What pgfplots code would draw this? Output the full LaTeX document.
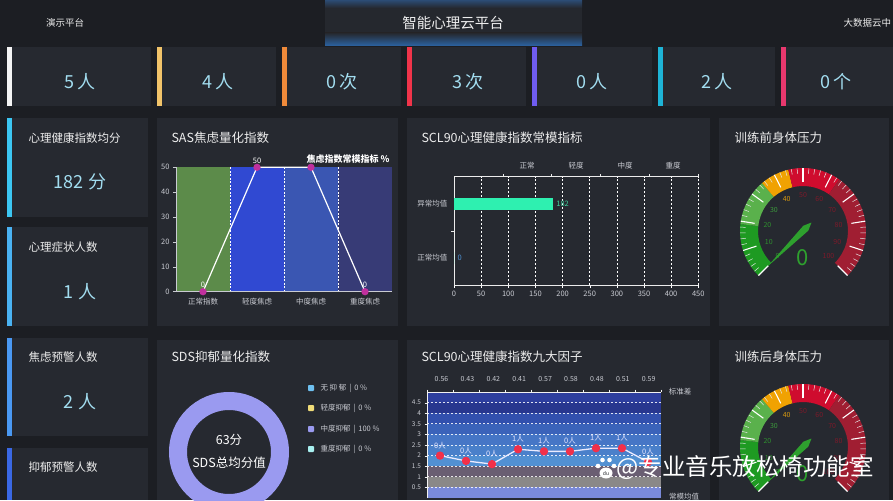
\documentclass[border=0pt]{standalone}
\usepackage{pgfplots}
\pgfplotsset{compat=1.18}
\usepackage{fontspec}
\setmainfont{Noto Sans CJK SC}
\definecolor{bgc}{HTML}{1C1E23}
\definecolor{panelc}{HTML}{262930}
\definecolor{valc}{HTML}{A2DDF0}
\definecolor{titc}{HTML}{EDEDED}
\definecolor{tickc}{HTML}{C9CBD2}
\definecolor{glowM}{HTML}{25282E}
\definecolor{glowT}{HTML}{2C4C74}
\definecolor{glowB}{HTML}{2C64A4}
\definecolor{sasG}{HTML}{5C8B4A}
\definecolor{sasB1}{HTML}{3049D2}
\definecolor{sasB2}{HTML}{3A56B2}
\definecolor{sasB3}{HTML}{373B76}
\definecolor{sasM}{HTML}{C0309E}
\definecolor{sclbar}{HTML}{2EF0B0}
\definecolor{sclg}{HTML}{3FD4A0}
\definecolor{sclb}{HTML}{4F93D6}
\definecolor{donut}{HTML}{9A9AF0}
\definecolor{lg1}{HTML}{6EC0F0}
\definecolor{lg2}{HTML}{F0DC78}
\definecolor{lg4}{HTML}{A8F0F0}
\definecolor{gG1}{HTML}{1E9A22}
\definecolor{gG2}{HTML}{5AB14C}
\definecolor{gO}{HTML}{F0A202}
\definecolor{gR}{HTML}{CF0C2E}
\definecolor{gD}{HTML}{A01E32}
\definecolor{gL1}{HTML}{2F8F2F}
\definecolor{gL2}{HTML}{3C9A3C}
\definecolor{gLO}{HTML}{D89A10}
\definecolor{gLR}{HTML}{7C1A2A}
\definecolor{needle}{HTML}{2EA02E}
\definecolor{ptred}{HTML}{F2304A}
\definecolor{nb1}{HTML}{2E3F9E}
\definecolor{nb2}{HTML}{28378F}
\definecolor{nb3}{HTML}{3250AE}
\definecolor{nb4}{HTML}{3B63BA}
\definecolor{nb5}{HTML}{4676C6}
\definecolor{nb6}{HTML}{4A80CA}
\definecolor{nb7}{HTML}{5290D2}
\definecolor{nb8}{HTML}{6A5E72}
\definecolor{nb9}{HTML}{8A8888}
\definecolor{nb10}{HTML}{7A8ADA}
\definecolor{cW}{HTML}{F4F4F4}
\definecolor{cY}{HTML}{F2C46A}
\definecolor{cO}{HTML}{F08A3A}
\definecolor{cR}{HTML}{F0344A}
\definecolor{cP}{HTML}{6F5CF0}
\definecolor{cC}{HTML}{1EB4D6}
\definecolor{cK}{HTML}{E8386E}
\definecolor{lc1}{HTML}{3CC6F2}
\definecolor{lc2}{HTML}{4AB2F2}
\definecolor{lc3}{HTML}{4A98F2}
\definecolor{lc4}{HTML}{3A68E4}
\newcommand{\fsz}[1]{\fontsize{#1}{#1}\selectfont}
\newcommand{\gseg}[3]{%
  \fill[#3] ({225-2.7*#1}:63) arc[start angle={225-2.7*#1}, end angle={225-2.7*#2}, radius=63]
    -- ({225-2.7*#2}:45) arc[start angle={225-2.7*#2}, end angle={225-2.7*#1}, radius=45] -- cycle;}
\newcommand{\gauge}[3]{%
\begin{scope}[shift={(#1pt,-#2pt)}, x=1pt, y=1pt]
  \gseg{0}{19}{gG1}\gseg{19}{35}{gG2}\gseg{35}{45}{gO}\gseg{45}{63}{gR}\gseg{63}{100}{gD}
  \foreach \i in {0,...,50}{%
    \pgfmathsetmacro\gang{225-5.4*\i}%
    \pgfmathtruncatemacro\gmod{mod(\i,5)}%
    \ifnum\gmod=0
      \draw[white, line width=1.1pt] (\gang:49) -- (\gang:63);
    \else
      \draw[white!80!gray, line width=0.5pt] (\gang:57.5) -- (\gang:63);
    \fi}
  \foreach \v/\gc in {0/gL1,10/gL1,20/gL1,30/gL2,40/gLO,50/gLR,60/gLR,70/gLR,80/gLR,90/gLR,100/gLR}{%
    \node[text=\gc, font=\fsz{7}] at ({225-2.7*\v}:36) {\v};}
  \fill[needle, rotate={225-2.7*#3}] (50,0) -- (-4,3.5) -- (-12,0) -- (-4,-3.5) -- cycle;
  \node[text=needle, font=\fsz{22}] at (0,-27) {#3};
\end{scope}}

\begin{document}
\begin{tikzpicture}
\path[use as bounding box, clip] (0,0) rectangle (893pt,-500pt);
\begin{scope}[x=1pt,y=-1pt]
\fill[bgc] (0,0) rectangle (893,500);
% header glow
\fill[glowM] (325,0) rectangle (582,46);
\shade[top color=glowT, bottom color=glowM] (325,0) rectangle (582,8);
\shade[top color=glowM, bottom color=glowB] (325,33) rectangle (582,46);
% top cards
\foreach \x/\w/\cl in {7/144/cW,157/119/cY,282/119/cO,407/119/cR,532/120/cP,658/117/cC,781/112/cK}{%
  \fill[panelc] (\x,47) rectangle ++(\w,59);
  \fill[\cl] (\x,47) rectangle ++(5,59);}
% left cards
\fill[panelc] (7,118) rectangle (148,217); \fill[lc1] (7,118) rectangle (12,217);
\fill[panelc] (7,227) rectangle (148,326); \fill[lc2] (7,227) rectangle (12,326);
\fill[panelc] (7,338) rectangle (148,436); \fill[lc3] (7,338) rectangle (12,436);
\fill[panelc] (7,448) rectangle (148,500); \fill[lc4] (7,448) rectangle (12,500);
% panels
\fill[panelc] (157,118) rectangle (398,326);
\fill[panelc] (407,118) rectangle (710,326);
\fill[panelc] (719,118) rectangle (889,326);
\fill[panelc] (157,340) rectangle (398,500);
\fill[panelc] (407,340) rectangle (710,500);
\fill[panelc] (719,340) rectangle (889,500);
\end{scope}

% ---------- SAS ----------
\begin{axis}[at={(176pt,-291.7pt)}, anchor=south west, scale only axis,
  width=216pt, height=124.4pt, xmin=-0.5, xmax=3.5, ymin=0, ymax=50,
  axis x line*=bottom, axis y line*=left,
  axis line style={draw=tickc, line width=0.8pt},
  xtick={0,1,2,3}, xticklabels={正常指数,轻度焦虑,中度焦虑,重度焦虑},
  x tick style={draw=none},
  ytick={0,10,20,30,40,50}, y tick style={draw=tickc, line width=0.6pt},
  tick align=outside, major tick length=3pt,
  tick label style={font=\fsz{7.5}, text=tickc},
  /pgf/number format/assume math mode=true,
  clip=false, axis on top]
\addplot[fill=sasG, draw=none] coordinates {(-0.5,50) (0.5,50)} \closedcycle;
\addplot[fill=sasB1, draw=none] coordinates {(0.5,50) (1.5,50)} \closedcycle;
\addplot[fill=sasB2, draw=none] coordinates {(1.5,50) (2.5,50)} \closedcycle;
\addplot[fill=sasB3, draw=none] coordinates {(2.5,50) (3.5,50)} \closedcycle;
\pgfplotsinvokeforeach{0.5,1.5,2.5}{\draw[white, dash pattern=on 2pt off 1.5pt, line width=0.7pt] (axis cs:#1,0) -- (axis cs:#1,50);}
\addplot[white, line width=1.2pt, mark=*, mark size=3pt, mark options={fill=sasM, draw=sasM}]
  coordinates {(0,0) (1,50) (2,50) (3,0)};
\node[font=\fsz{7.5}, text=white] at ([yshift=6.5pt]axis cs:0,0) {0};
\node[font=\fsz{7.5}, text=white] at ([yshift=6.5pt]axis cs:1,50) {50};
\node[font=\fsz{7.5}, text=white] at ([yshift=6.5pt]axis cs:3,0) {0};
\end{axis}

% ---------- SCL90 bar ----------
\begin{axis}[at={(454pt,-285pt)}, anchor=south west, scale only axis,
  width=244.3pt, height=108.3pt, xmin=0, xmax=450, ymin=-0.5, ymax=1.5,
  axis x line*=bottom, axis y line*=left,
  axis line style={draw=white!85!gray, line width=0.8pt},
  xtick={0,50,...,450}, xmajorgrids,
  major grid style={draw=white, dash pattern=on 2pt off 2pt, line width=0.7pt},
  ytick={0,1}, yticklabels={正常均值,异常均值}, y tick style={draw=none},
  tick align=outside, major tick length=3pt, x tick style={draw=white},
  tick label style={font=\fsz{7.5}, text=tickc},
  /pgf/number format/assume math mode=true, clip=false]
\addplot[xbar, bar width=12.3pt, bar shift=0pt, fill=sclbar, draw=none,
  nodes near coords, nodes near coords style={text=sclg, font=\fsz{7.5}}] coordinates {(182,1)};
\addplot[xbar, bar width=12.3pt, bar shift=0pt, fill=sclbar, draw=none,
  nodes near coords, nodes near coords style={text=sclb, font=\fsz{7.5}}] coordinates {(0,0)};
\draw[white!85!gray, line width=0.8pt] (axis cs:0,1.5) -- (axis cs:450,1.5);
\pgfplotsinvokeforeach{90,180,270,360,450}{\draw[white!85!gray, line width=0.6pt] (axis cs:#1,1.5) -- ([yshift=3pt]axis cs:#1,1.5);}
\draw[white!85!gray, line width=0.6pt] (axis cs:0,0.5) -- ([xshift=-3pt]axis cs:0,0.5);
\end{axis}

% ---------- SCL90 nine factors ----------
\begin{axis}[at={(427pt,-498pt)}, anchor=south west, scale only axis,
  width=234pt, height=106pt, xmin=-0.5, xmax=8.5, ymin=0, ymax=5,
  axis x line*=top, axis y line*=left,
  axis line style={draw=white!90!gray, line width=0.8pt},
  xtick={-0.5,0.5,...,8.5}, xticklabels={},
  ytick={0.5,1,1.5,2,2.5,3,3.5,4,4.5},
  tick align=outside, major tick length=2.5pt, tick style={draw=white!90!gray},
  tick label style={font=\fsz{6.5}, text=tickc},
  /pgf/number format/assume math mode=true, clip=false, axis on top]
\addplot[fill=nb1, draw=none] coordinates {(-0.5,5) (8.5,5)} \closedcycle;
\addplot[fill=nb2, draw=none] coordinates {(-0.5,4.5) (8.5,4.5)} \closedcycle;
\addplot[fill=nb3, draw=none] coordinates {(-0.5,4) (8.5,4)} \closedcycle;
\addplot[fill=nb4, draw=none] coordinates {(-0.5,3.5) (8.5,3.5)} \closedcycle;
\addplot[fill=nb5, draw=none] coordinates {(-0.5,3) (8.5,3)} \closedcycle;
\addplot[fill=nb6, draw=none] coordinates {(-0.5,2.5) (8.5,2.5)} \closedcycle;
\addplot[fill=nb7, draw=none] coordinates {(-0.5,2) (8.5,2)} \closedcycle;
\addplot[fill=nb8, draw=none] coordinates {(-0.5,1.5) (8.5,1.5)} \closedcycle;
\addplot[fill=nb9, draw=none] coordinates {(-0.5,1) (8.5,1)} \closedcycle;
\addplot[fill=nb10, draw=none] coordinates {(-0.5,0.5) (8.5,0.5)} \closedcycle;
\pgfplotsinvokeforeach{0.5,1,1.5,2,2.5,3,3.5,4,4.5}{\draw[white, opacity=0.85, dash pattern=on 2pt off 2pt, line width=0.7pt] (axis cs:-0.5,#1) -- (axis cs:8.5,#1);}
\addplot[white!92!blue, line width=1.3pt, mark=*, mark size=3.5pt, mark options={fill=ptred, draw=ptred},
  nodes near coords, point meta=explicit symbolic,
  nodes near coords style={text=white!90!blue, font=\fsz{7.5}, anchor=south, yshift=3pt}]
  coordinates {(0,2.0)[0人] (1,1.75)[0人] (2,1.6)[0人] (3,2.3)[1人] (4,2.2)[1人] (5,2.2)[0人] (6,2.35)[1人] (7,2.35)[1人] (8,1.7)[0人]};
\end{axis}

% ---------- gauges ----------
\gauge{803}{231}{0}
\gauge{803}{447}{0}

\begin{scope}[x=1pt,y=-1pt]
% donut
\fill[donut, even odd rule] (229,452) circle[radius=60] (229,452) circle[radius=42];
\node[font=\fsz{12.5}, text=white] at (229,440) {63分};
\node[font=\fsz{12.5}, text=white] at (229,463) {SDS总均分值};
\foreach \yy/\cl/\tx in {388/lg1/{无 抑 郁 \,|\, 0 \%},408/lg2/{轻度抑郁 \,|\, 0 \%},429/donut/{中度抑郁 \,|\, 100 \%},449/lg4/{重度抑郁 \,|\, 0 \%}}{%
  \fill[\cl, rounded corners=0.8pt] (308,\yy-3) rectangle (314,\yy+3);
  \node[anchor=west, font=\fsz{7.5}, text=tickc] at (317,\yy) {\tx};}
% header
\node[font=\fsz{9.5}, text=titc] at (65,23) {演示平台};
\node[font=\fsz{14.5}, text=titc] at (453,23) {智能心理云平台};
\node[anchor=west, font=\fsz{9.5}, text=titc] at (840,23) {大数据云中};
% top values
\foreach \x/\tx in {80/5\,人,218/4\,人,342/0\,次,468/3\,次,592/0\,人,717/2\,人,836/0\,个}{%
  \node[font=\fsz{18}, text=valc] at (\x,82) {\tx};}
% left cards
\node[anchor=west, font=\fsz{11.5}, text=titc] at (25,138) {心理健康指数均分};
\node[anchor=west, font=\fsz{11.5}, text=titc] at (25,247) {心理症状人数};
\node[anchor=west, font=\fsz{11.5}, text=titc] at (25,357) {焦虑预警人数};
\node[anchor=west, font=\fsz{11.5}, text=titc] at (25,467) {抑郁预警人数};
\node[font=\fsz{18}, text=valc] at (80,182) {182 分};
\node[font=\fsz{18}, text=valc] at (80,292) {1 人};
\node[font=\fsz{18}, text=valc] at (80,402) {2 人};
% panel titles
\node[anchor=west, font=\fsz{12.5}, text=titc] at (168,138) {SAS焦虑量化指数};
\node[anchor=west, font=\fsz{12.5}, text=titc] at (418,138) {SCL90心理健康指数常模指标};
\node[anchor=west, font=\fsz{12.5}, text=titc] at (731,138) {训练前身体压力};
\node[anchor=west, font=\fsz{12.5}, text=titc] at (168,357) {SDS抑郁量化指数};
\node[anchor=west, font=\fsz{12.5}, text=titc] at (418,357) {SCL90心理健康指数九大因子};
\node[anchor=west, font=\fsz{12.5}, text=titc] at (731,357) {训练后身体压力};
% SAS legend text
\node[font=\bfseries\fsz{9}, text=white] at (348,159) {焦虑指数常模指标 \%};
% SCL top labels
\foreach \x/\tx in {527/正常,576/轻度,625/中度,673/重度}{\node[font=\fsz{7.5}, text=tickc] at (\x,166) {\tx};}
% nine factor top labels
\foreach \x/\tx in {441.5/0.56,467.4/0.43,493.3/0.42,519.2/0.41,545.1/0.57,571/0.58,596.9/0.48,622.8/0.51,648.7/0.59}{\node[font=\fsz{7}, text=tickc] at (\x,379) {\tx};}
\node[font=\fsz{7.5}, text=tickc] at (680,392) {标准差};
\node[font=\fsz{7.5}, text=tickc] at (684,497) {常模均值};
% watermark
\fill[white] (606,473) ellipse[x radius=6.5, y radius=5.5];
\fill[white] (598,466) circle[radius=2.3];
\fill[white] (602.5,460) circle[radius=2.3];
\fill[white] (609.5,460) circle[radius=2.3];
\fill[white] (614,466) circle[radius=2.3];
\node[font=\fsz{5}, text=bgc] at (606,474) {du};
\node[anchor=west, font=\fsz{23.5}, text=white] at (613,468) {@专业音乐放松椅功能室};
\end{scope}
\end{tikzpicture}
\end{document}
